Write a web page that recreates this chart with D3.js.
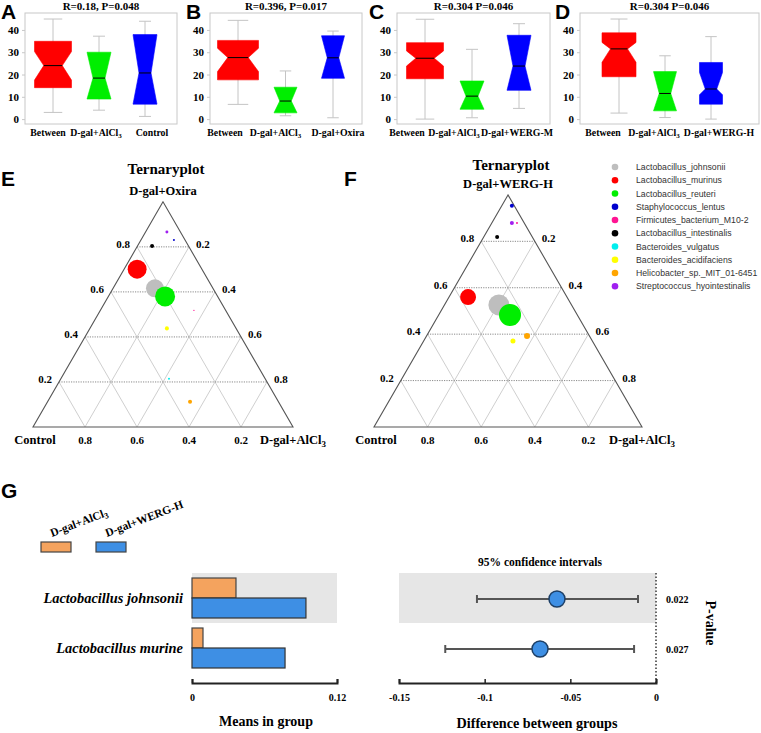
<!DOCTYPE html>
<html><head><meta charset="utf-8">
<script src="https://cdn.jsdelivr.net/npm/d3@7/dist/d3.min.js"></script>
<style>
body{margin:0;background:#fff;}
svg{display:block;}
</style></head><body>
<svg id="chart" width="761" height="733"></svg>
<script>
// ---------------- DATA ----------------
const boxCatsA = ["Between","D-gal+AlCl3","Control"];
const boxCatsB = ["Between","D-gal+AlCl3","D-gal+Oxira"];
const boxCatsC = ["Between","D-gal+AlCl3","D-gal+WERG-M"];
const boxCatsD = ["Between","D-gal+AlCl3","D-gal+WERG-H"];
const boxTitles = ["R=0.18, P=0.048","R=0.396, P=0.017","R=0.304 P=0.046","R=0.304 P=0.046"];
const boxYTicks = [0,10,20,30,40];
// [lower whisker, Q1, median, Q3, upper whisker]
const boxStatsA = [[3.0,14.1,24.0,34.9,44.9],[4.0,9.0,18.4,30.0,37.2],[1.2,6.7,20.7,37.9,43.9]];
const boxStatsB = [[6.6,17.6,27.6,35.3,44.3],[1.5,2.8,8.1,14.3,21.6],[0.6,18.3,27.5,37.4,39.5]];
const boxStatsC = [[0.0,18.1,27.3,34.3,44.8],[0.6,4.4,10.3,17.1,31.3],[4.8,12.9,23.8,37.6,42.8]];
const boxStatsD = [[2.7,19.0,31.5,38.7,44.9],[0.7,3.7,11.5,21.3,28.4],[0.0,6.7,13.5,25.4,37.0]];
// notch [low, high]
const notchA = [[17.5,30.3],[9.0,30.0],[6.7,37.9]];
const notchB = [[21.3,31.8],[2.8,14.3],[18.3,37.4]];
const notchC = [[23.8,30.6],[4.4,17.1],[12.9,37.6]];
const notchD = [[25.5,34.4],[3.7,21.3],[10.9,20.9]];

const species = ["Lactobacillus_johnsonii","Lactobacillus_murinus","Lactobacillus_reuteri","Staphylococcus_lentus",
  "Firmicutes_bacterium_M10-2","Lactobacillus_intestinalis","Bacteroides_vulgatus","Bacteroides_acidifaciens",
  "Helicobacter_sp._MIT_01-6451","Streptococcus_hyointestinalis"];
const speciesColors = ["#bebebe","#ff0000","#00ee00","#0000cd","#ff1493","#000000","#00eeee","#ffff00","#ffa500","#a020f0"];
// composition [treatment(top), Control, D-gal+AlCl3]
const ternCompE = [[0.616,0.223,0.161],[0.701,0.249,0.050],[0.580,0.202,0.218],[0.830,0.043,0.127],[0.518,0.122,0.360],
  [0.804,0.140,0.056],[0.214,0.370,0.416],[0.438,0.266,0.296],[0.112,0.340,0.548],[0.866,0.052,0.082]];
const ternAbundE = [0.080,0.089,0.099,0.001,0.0005,0.004,0.001,0.004,0.004,0.0022];
const ternCompF = [[0.526,0.271,0.203],[0.560,0.369,0.071],[0.483,0.251,0.266],[0.953,0.009,0.038],[0.879,0.027,0.094],
  [0.819,0.131,0.050],null,[0.371,0.296,0.333],[0.392,0.233,0.375],[0.879,0.046,0.075]];
const ternAbundF = [0.109,0.063,0.120,0.004,0.001,0.004,0,0.0062,0.0089,0.004];
const ternTicks = [0.2,0.4,0.6,0.8];

const gCategories = ["Lactobacillus johnsonii","Lactobacillus murine"];
const gGroups = ["D-gal+AlCl3","D-gal+WERG-H"];
const gMeansAlCl3 = [0.0364,0.0091];
const gMeansWERGH = [0.0943,0.0770];
const gDiff = [-0.0578,-0.0677];
const gCILow = [-0.1045,-0.1230];
const gCIHigh = [-0.0105,-0.0128];
const gPValues = ["0.022","0.027"];
const gMeanTicks = [0,0.12];
const gDiffTicks = [-0.15,-0.1,-0.05,0];

// ---------------- HELPERS ----------------
const SERIF = "'Liberation Serif','Times New Roman',serif";
const SANS = "'Liberation Sans',Arial,sans-serif";
const svg = d3.select("#chart");

function richText(sel, str){
  const i = str.indexOf("AlCl3");
  if(i<0){ sel.text(str); return sel; }
  sel.append("tspan").text(str.slice(0,i+4));
  sel.append("tspan").attr("dy","0.3em").attr("font-size","0.72em").text("3");
  const post = str.slice(i+5);
  if(post) sel.append("tspan").attr("dy","-0.3em").text(post);
  return sel;
}
function letter(txt,x,y){
  svg.append("text").attr("x",x).attr("y",y).attr("font-family",SANS).attr("font-weight","bold")
    .attr("font-size",21).attr("fill","#000").text(txt);
}

// ---------------- BOX PLOTS ----------------
const boxPanels = [
  {letter:"A", lx:1,   x0:25,  x1:177, c0:53,  c2:145, w:[37,24,24], ldx:[-5,-3,7],    cats:boxCatsA, stats:boxStatsA, notch:notchA},
  {letter:"B", lx:186, x0:210, x1:362, c0:238, c2:333, w:[41,23,23], ldx:[-13,-10,5],  cats:boxCatsB, stats:boxStatsB, notch:notchB},
  {letter:"C", lx:369, x0:397, x1:550, c0:425, c2:519, w:[37,24,24], ldx:[-18,-18,-2], cats:boxCatsC, stats:boxStatsC, notch:notchC},
  {letter:"D", lx:555, x0:580, x1:759, c0:619, c2:711, w:[34,23,23], ldx:[-16,-11,8],  cats:boxCatsD, stats:boxStatsD, notch:notchD}
];
const boxColors = ["#ff0000","#00ee00","#0000ff"];
boxPanels.forEach((p,pi)=>{
  const g = svg.append("g");
  const y = d3.scaleLinear().domain([-2.2,47.6]).range([124,13]);
  const x = d3.scalePoint().domain(p.cats).range([p.c0,p.c2]);
  g.append("rect").attr("x",p.x0).attr("y",13).attr("width",p.x1-p.x0).attr("height",111)
    .attr("fill","none").attr("stroke","#c8c8c8");
  const ax = g.append("g").attr("transform",`translate(${p.x0},0)`)
    .call(d3.axisLeft(y).tickValues(boxYTicks).tickSize(3).tickPadding(3));
  ax.select(".domain").remove();
  ax.selectAll("line").attr("stroke","#c8c8c8");
  ax.selectAll("text").attr("font-family",SERIF).attr("font-weight","bold").attr("font-size",11).attr("fill","#000");
  p.cats.forEach((c,i)=>{
    const [lo,q1,md,q3,hi] = p.stats[i];
    const [nl,nh] = p.notch[i];
    const cx = x(c), hw = p.w[i]/2, nw = hw*0.5;
    g.append("line").attr("x1",cx).attr("x2",cx).attr("y1",y(hi)).attr("y2",y(lo)).attr("stroke","#c4c4c4");
    [lo,hi].forEach(v=>g.append("line").attr("x1",cx-hw/2).attr("x2",cx+hw/2).attr("y1",y(v)).attr("y2",y(v)).attr("stroke","#c4c4c4"));
    const pts = [[cx-hw,y(q3)],[cx+hw,y(q3)],[cx+hw,y(nh)],[cx+nw,y(md)],[cx+hw,y(nl)],[cx+hw,y(q1)],
                 [cx-hw,y(q1)],[cx-hw,y(nl)],[cx-nw,y(md)],[cx-hw,y(nh)]];
    g.append("polygon").attr("points",pts.map(d=>d.join(",")).join(" "))
      .attr("fill",boxColors[i]).attr("stroke",boxColors[i]).attr("stroke-width",0.6);
    g.append("line").attr("x1",cx-nw).attr("x2",cx+nw).attr("y1",y(md)).attr("y2",y(md)).attr("stroke","#000").attr("stroke-width",1);
    richText(g.append("text").attr("x",cx+p.ldx[i]).attr("y",136).attr("text-anchor","middle")
      .attr("font-family",SERIF).attr("font-weight","bold").attr("font-size",9.8), c);
  });
  g.append("text").attr("x",(p.x0+p.x1)/2).attr("y",10).attr("text-anchor","middle")
    .attr("font-family",SERIF).attr("font-weight","bold").attr("font-size",11).text(boxTitles[pi]);
  letter(p.letter,p.lx,19);
});

// ---------------- TERNARY ----------------
const rScale = d3.scaleSqrt().domain([0,0.15]).range([0,12.3]);
function ternary(cfg, comp, abund){
  const g = svg.append("g");
  const h = cfg.base*Math.sqrt(3)/2;
  const P = (t,a)=>[cfg.bx + cfg.base*(a + t/2), cfg.by - h*t];
  const line = (p1,p2,stroke,dash)=>g.append("line").attr("x1",p1[0]).attr("y1",p1[1]).attr("x2",p2[0]).attr("y2",p2[1])
      .attr("stroke",stroke).attr("stroke-width",1).attr("stroke-dasharray",dash||null);
  ternTicks.forEach(v=>{
    line(P(0,v),P(1-v,v),"#cfcfcf");
    line(P(0,1-v),P(1-v,0),"#cfcfcf");
  });
  ternTicks.forEach(v=> line(P(v,0),P(v,1-v),"#8a8a8a","1.2,1.2"));
  g.append("path").attr("d",`M${P(1,0)}L${P(0,0)}L${P(0,1)}Z`).attr("fill","none").attr("stroke","#555").attr("stroke-width",1.1);
  const lab = (x,y,txt,anchor,size)=>g.append("text").attr("x",x).attr("y",y).attr("text-anchor",anchor)
      .attr("font-family",SERIF).attr("font-weight","bold").attr("font-size",size||11).attr("fill","#000");
  ternTicks.forEach(v=>{
    const L = P(v,0); lab(L[0]-7,L[1]+1,"","end").text(v);
    const R = P(v,1-v); lab(R[0]+7,R[1]+1,"","start").text((1-v).toFixed(1));
    const B = P(0,1-v); lab(B[0],cfg.by+17,"","middle").text(v);
  });
  const apex = P(1,0);
  lab(apex[0],apex[1]-7,"","middle",12.5).text(cfg.top);
  lab(apex[0]+3,cfg.titleY,"","middle",15).text("Ternaryplot");
  lab(cfg.bx+2,cfg.by+17,"","middle",12.5).text("Control");
  richText(lab(cfg.bx+cfg.base,cfg.by+17,"","middle",12.5),"D-gal+AlCl3");
  comp.forEach((c,i)=>{
    if(!c) return;
    const pt = P(c[0],c[2]);
    g.append("circle").attr("cx",pt[0]).attr("cy",pt[1]).attr("r",rScale(abund[i])).attr("fill",speciesColors[i]);
  });
  letter(cfg.letter,cfg.lx,cfg.ly);
}
ternary({letter:"E",lx:1,ly:186,bx:33,by:427,base:260,top:"D-gal+Oxira",titleY:174}, ternCompE, ternAbundE);
ternary({letter:"F",lx:344,ly:186,bx:374,by:427,base:268,top:"D-gal+WERG-H",titleY:170}, ternCompF, ternAbundF);

// legend
const leg = svg.append("g");
species.forEach((s,i)=>{
  const yy = 167 + i*13.25;
  leg.append("circle").attr("cx",615).attr("cy",yy).attr("r",3.3).attr("fill",speciesColors[i]);
  leg.append("text").attr("x",636).attr("y",yy+3.2).attr("font-family",SANS).attr("font-size",8.7).attr("fill","#333").text(s);
});

// ---------------- PANEL G ----------------
letter("G",1,498);
const gOrange = "#f4a35e", gBlue = "#3e8fe4";
const yb = d3.scaleBand().domain(gCategories).range([573,673]);
const xm = d3.scaleLinear().domain([0,0.12]).range([192,337]);
const xd = d3.scaleLinear().domain([-0.15,0]).range([399,656]);
const gg = svg.append("g");
gg.append("rect").attr("x",xm(0)).attr("y",yb(gCategories[0])).attr("width",xm(0.12)-xm(0)).attr("height",yb.bandwidth()).attr("fill","#e6e6e6");
gg.append("rect").attr("x",xd(-0.15)).attr("y",yb(gCategories[0])).attr("width",xd(0)-xd(-0.15)).attr("height",yb.bandwidth()).attr("fill","#e6e6e6");
gCategories.forEach((c,i)=>{
  const y0 = yb(c);
  gg.append("rect").attr("x",xm(0)).attr("y",y0+5).attr("width",xm(gMeansAlCl3[i])-xm(0)).attr("height",20)
    .attr("fill",gOrange).attr("stroke","#444").attr("stroke-width",1.2);
  gg.append("rect").attr("x",xm(0)).attr("y",y0+25).attr("width",xm(gMeansWERGH[i])-xm(0)).attr("height",20)
    .attr("fill",gBlue).attr("stroke","#333").attr("stroke-width",1.2);
  gg.append("text").attr("x",183).attr("y",y0+30).attr("text-anchor","end").attr("font-family",SERIF)
    .attr("font-weight","bold").attr("font-style","italic").attr("font-size",14.4).text(c);
  const cy = y0+26;
  gg.append("line").attr("x1",xd(gCILow[i])).attr("x2",xd(gCIHigh[i])).attr("y1",cy).attr("y2",cy).attr("stroke","#555").attr("stroke-width",2);
  [gCILow[i],gCIHigh[i]].forEach(v=>gg.append("line").attr("x1",xd(v)).attr("x2",xd(v)).attr("y1",cy-4).attr("y2",cy+4).attr("stroke","#555").attr("stroke-width",2));
  gg.append("circle").attr("cx",xd(gDiff[i])).attr("cy",cy).attr("r",8).attr("fill",gBlue).attr("stroke","#1d3f66").attr("stroke-width",1.5);
  gg.append("text").attr("x",666).attr("y",cy+4).attr("font-family",SERIF).attr("font-weight","bold").attr("font-size",10).text(gPValues[i]);
});
gg.append("line").attr("x1",xd(0)).attr("x2",xd(0)).attr("y1",573).attr("y2",683).attr("stroke","#666").attr("stroke-width",2).attr("stroke-dasharray","1.5,2");
const axm = gg.append("g").attr("transform","translate(0,683)")
  .call(d3.axisBottom(xm).tickValues(gMeanTicks).tickFormat(d=>d===0?"0":String(d)).tickSizeInner(-4).tickSizeOuter(-4).tickPadding(11));
const axd = gg.append("g").attr("transform","translate(0,683)")
  .call(d3.axisBottom(xd).tickValues(gDiffTicks).tickFormat(d=>d===0?"0":String(d)).tickSizeInner(-4).tickSizeOuter(-4).tickPadding(11));
[axm,axd].forEach(a=>{
  a.select(".domain").attr("stroke","#222").attr("stroke-width",2);
  a.selectAll(".tick line").attr("stroke","#222").attr("stroke-width",1.5);
  a.selectAll("text").attr("font-family",SERIF).attr("font-weight","bold").attr("font-size",10).attr("fill","#000");
});
gg.append("text").attr("x",266).attr("y",726).attr("text-anchor","middle").attr("font-family",SERIF).attr("font-weight","bold").attr("font-size",14).text("Means in group");
gg.append("text").attr("x",537).attr("y",728).attr("text-anchor","middle").attr("font-family",SERIF).attr("font-weight","bold").attr("font-size",14.2).text("Difference between groups");
gg.append("text").attr("x",540).attr("y",566).attr("text-anchor","middle").attr("font-family",SERIF).attr("font-weight","bold").attr("font-size",11.5).text("95% confidence intervals");
gg.append("text").attr("transform","translate(706,623) rotate(90)").attr("text-anchor","middle").attr("font-family",SERIF).attr("font-weight","bold").attr("font-size",14).text("P-value");
const gLeg = [{x:41,c:gOrange},{x:96,c:gBlue}];
gLeg.forEach((d,i)=>{
  gg.append("rect").attr("x",d.x).attr("y",542).attr("width",30).attr("height",10).attr("fill",d.c).attr("stroke","#444").attr("stroke-width",1.2);
  richText(gg.append("text").attr("transform",`translate(${d.x+11},537) rotate(-21)`).attr("font-family",SERIF)
    .attr("font-weight","bold").attr("font-size",11.5), gGroups[i]);
});
</script>
</body></html>
